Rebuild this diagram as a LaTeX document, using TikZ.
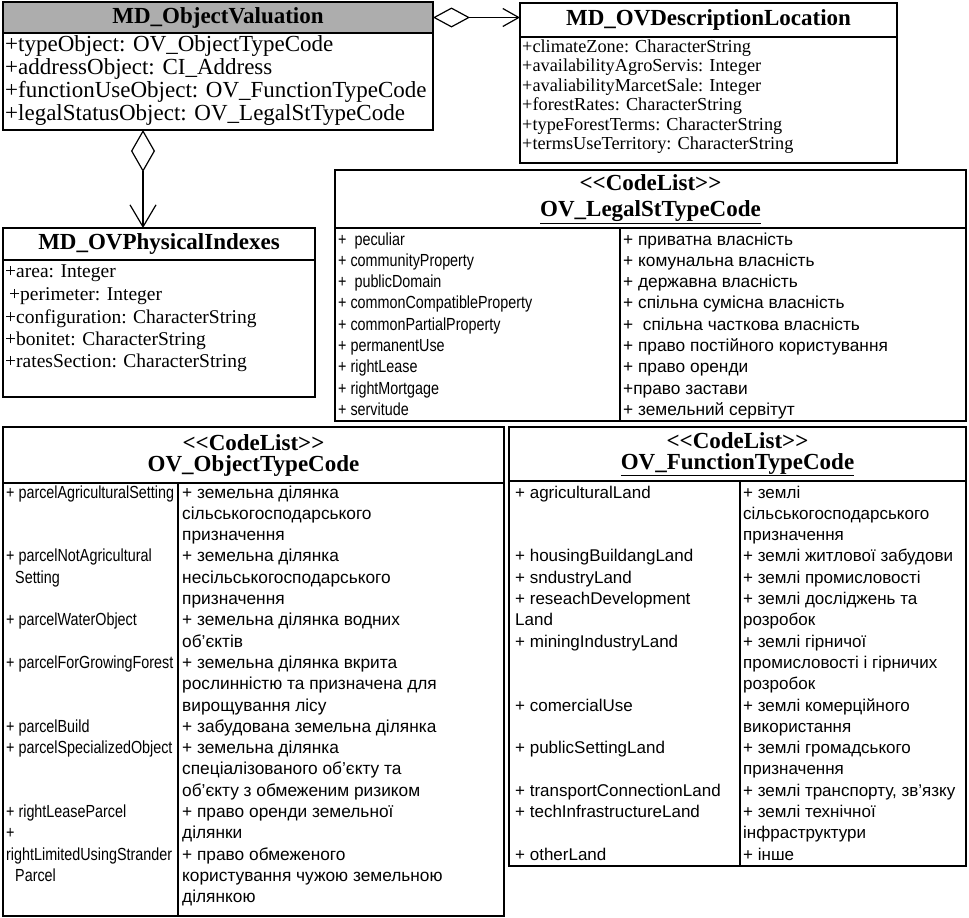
\documentclass[tikz,border=0pt]{standalone}
\usepackage{fontspec}
\setmainfont{Liberation Serif}
\newfontfamily\narsans[FakeStretch=0.82]{Liberation Sans}
\newfontfamily\regsans{Liberation Sans}
\usetikzlibrary{arrows.meta}
\newcommand\fzA{\fontsize{23}{24}\selectfont}
\newcommand\fzB{\fontsize{18.3}{20}\selectfont}
\newcommand\fzC{\fontsize{19.5}{22}\selectfont}
\newcommand\fzH{\fontsize{23}{21}\selectfont\bfseries}
\newcommand\fzN{\narsans\fontsize{17.5}{20}\selectfont}
\newcommand\fzL{\regsans\fontsize{17.3}{20}\selectfont}
\newcommand\fzF{\regsans\fontsize{17}{20}\selectfont}
\newcommand\dlt{<\kern0pt<}
\newcommand\dgt{>\kern0pt>}
\newcounter{tn}
\newcommand\txl[4]{\stepcounter{tn}\node[#1, name=t\thetn] at (#2,{#3}) {#4};}
\newcommand\otL[2]{\txl{nar}{6}{498+21.3*(#1-1)}{#2}}
\newcommand\otR[2]{\txl{cyl}{182}{498+21.3*(#1-1)}{#2}}
\newcommand\ftL[2]{\txl{cyf}{515}{498+21.3*(#1-1)}{#2}}
\newcommand\ftR[2]{\txl{cyf}{743}{498+21.3*(#1-1)}{#2}}
\newcommand\lsL[2]{\txl{nar}{338}{245+21.3*(#1-1)}{#2}}
\newcommand\lsR[2]{\txl{cyl}{623}{245+21.3*(#1-1)}{#2}}
\begin{document}
\begin{tikzpicture}[x=1pt,y=-1pt,
  bx/.style={draw, line width=1.3pt, inner sep=0pt, outer sep=0pt, anchor=north west},
  hd/.style={bx, font=\fzH, align=center},
  sep/.style={line width=1.1pt},
  tb/.style={anchor=base west, inner sep=0pt},
  nar/.style={tb, font=\fzN},
  cyl/.style={tb, font=\fzL},
  cyf/.style={tb, font=\fzF},
  sa/.style={tb, font=\fzA},
  sb/.style={tb, font=\fzB},
  sc/.style={tb, font=\fzC},
  agg/.style={line width=1.2pt, {Diamond[open,length=37pt,width=20pt]}-{Straight Barb[length=16pt,width=18pt]}},
  aggv/.style={line width=1.2pt, {Diamond[open,length=42pt,width=24pt]}-{Straight Barb[length=22pt,width=26pt]}},
]
\useasboundingbox (0,0) rectangle (969,918);

% ---------- MD_ObjectValuation
\node[bx, minimum width=430pt, minimum height=128pt] (ov) at (3,2) {};
\node[hd, fill=black!32, minimum width=430pt, minimum height=31pt] (ovh) at (3,2) {MD\_ObjectValuation};
\txl{sa}{5}{51}{+typeObject: OV\_ObjectTypeCode}
\txl{sa}{5}{74}{+addressObject: CI\_Address}
\txl{sa}{5}{97}{+functionUseObject: OV\_FunctionTypeCode}
\txl{sa}{5}{120}{+legalStatusObject: OV\_LegalStTypeCode}

% ---------- MD_OVDescriptionLocation
\node[bx, minimum width=377pt, minimum height=160pt] (dl) at (520,3) {};
\node[hd, minimum width=377pt, minimum height=34pt] (dlh) at (520,3) {MD\_OVDescriptionLocation};
\txl{sb}{522}{52}{+climateZone: CharacterString}
\txl{sb}{522}{71.5}{+availabilityAgroServis: Integer}
\txl{sb}{522}{91}{+avaliabilityMarcetSale: Integer}
\txl{sb}{522}{110.5}{+forestRates: CharacterString}
\txl{sb}{522}{130}{+typeForestTerms: CharacterString}
\txl{sb}{522}{149.5}{+termsUseTerritory: CharacterString}

% ---------- MD_OVPhysicalIndexes
\node[bx, minimum width=312pt, minimum height=169pt] (pi) at (3,228) {};
\node[hd, minimum width=312pt, minimum height=32pt] (pih) at (3,228) {MD\_OVPhysicalIndexes};
\txl{sc}{5}{277}{+area: Integer}
\txl{sc}{5}{300}{\hspace{4pt}+perimeter: Integer}
\txl{sc}{5}{323}{+configuration: CharacterString}
\txl{sc}{5}{345}{+bonitet: CharacterString}
\txl{sc}{5}{367}{+ratesSection: CharacterString}

% ---------- connectors
\draw[agg] (ovh.east) -- (ovh.east -| dl.west);
\coordinate (av) at (143,130);
\draw[aggv] (av) -- (av |- pi.north);

% ---------- OV_LegalStTypeCode
\node[bx, minimum width=631pt, minimum height=251pt] (ls) at (335,170) {};
\node[hd, minimum width=631pt, minimum height=58pt] (lsh) at (335,170) {\dlt CodeList\dgt\\[5pt]\underline{OV\_LegalStTypeCode}};
\draw[sep] (620,228) -- (620,421);
\lsL{1}{+~ peculiar}
\lsL{2}{+ communityProperty}
\lsL{3}{+~ publicDomain}
\lsL{4}{+ commonCompatibleProperty}
\lsL{5}{+ commonPartialProperty}
\lsL{6}{+ permanentUse}
\lsL{7}{+ rightLease}
\lsL{8}{+ rightMortgage}
\lsL{9}{+ servitude}
\lsR{1}{+ приватна власність}
\lsR{2}{+ комунальна власність}
\lsR{3}{+ державна власність}
\lsR{4}{+ спільна сумісна власність}
\lsR{5}{+~ спільна часткова власність}
\lsR{6}{+ право постійного користування}
\lsR{7}{+ право оренди}
\lsR{8}{+право застави}
\lsR{9}{+ земельний сервітут}

% ---------- OV_ObjectTypeCode
\node[bx, minimum width=501pt, minimum height=489pt] (ot) at (3,427) {};
\node[hd, minimum width=501pt, minimum height=56pt] (oth) at (3,427) {\dlt CodeList\dgt\\OV\_ObjectTypeCode};
\draw[sep] (178,483) -- (178,916);
\otL{1}{+ parcelAgriculturalSetting}
\otL{4}{+ parcelNotAgricultural}
\otL{5}{\hspace{9pt}Setting}
\otL{7}{+ parcelWaterObject}
\otL{9}{+ parcelForGrowingForest}
\otL{12}{+ parcelBuild}
\otL{13}{+ parcelSpecializedObject}
\otL{16}{+ rightLeaseParcel}
\otL{17}{+}
\otL{18}{rightLimitedUsingStrander}
\otL{19}{\hspace{9pt}Parcel}
\otR{1}{+ земельна ділянка}
\otR{2}{сільськогосподарського}
\otR{3}{призначення}
\otR{4}{+ земельна ділянка}
\otR{5}{несільськогосподарського}
\otR{6}{призначення}
\otR{7}{+ земельна ділянка водних}
\otR{8}{об’єктів}
\otR{9}{+ земельна ділянка вкрита}
\otR{10}{рослинністю та призначена для}
\otR{11}{вирощування лісу}
\otR{12}{+ забудована земельна ділянка}
\otR{13}{+ земельна ділянка}
\otR{14}{спеціалізованого об’єкту та}
\otR{15}{об’єкту з обмеженим ризиком}
\otR{16}{+ право оренди земельної}
\otR{17}{ділянки}
\otR{18}{+ право обмеженого}
\otR{19}{користування чужою земельною}
\otR{20}{ділянкою}

% ---------- OV_FunctionTypeCode
\node[bx, minimum width=457pt, minimum height=439pt] (ft) at (509,427) {};
\node[hd, minimum width=457pt, minimum height=54pt] (fth) at (509,427) {\dlt CodeList\dgt\\\underline{OV\_FunctionTypeCode}};
\draw[sep] (740,481) -- (740,866);
\ftL{1}{+ agriculturalLand}
\ftL{4}{+ housingBuildangLand}
\ftL{5}{+ sndustryLand}
\ftL{6}{+ reseachDevelopment}
\ftL{7}{Land}
\ftL{8}{+ miningIndustryLand}
\ftL{11}{+ comercialUse}
\ftL{13}{+ publicSettingLand}
\ftL{15}{+ transportConnectionLand}
\ftL{16}{+ techInfrastructureLand}
\ftL{18}{+ otherLand}
\ftR{1}{+ землі}
\ftR{2}{сільськогосподарського}
\ftR{3}{призначення}
\ftR{4}{+ землі житлової забудови}
\ftR{5}{+ землі промисловості}
\ftR{6}{+ землі досліджень та}
\ftR{7}{розробок}
\ftR{8}{+ землі гірничої}
\ftR{9}{промисловості і гірничих}
\ftR{10}{розробок}
\ftR{11}{+ землі комерційного}
\ftR{12}{використання}
\ftR{13}{+ землі громадського}
\ftR{14}{призначення}
\ftR{15}{+ землі транспорту, зв’язку}
\ftR{16}{+ землі технічної}
\ftR{17}{інфраструктури}
\ftR{18}{+ інше}
\end{tikzpicture}
\end{document}
